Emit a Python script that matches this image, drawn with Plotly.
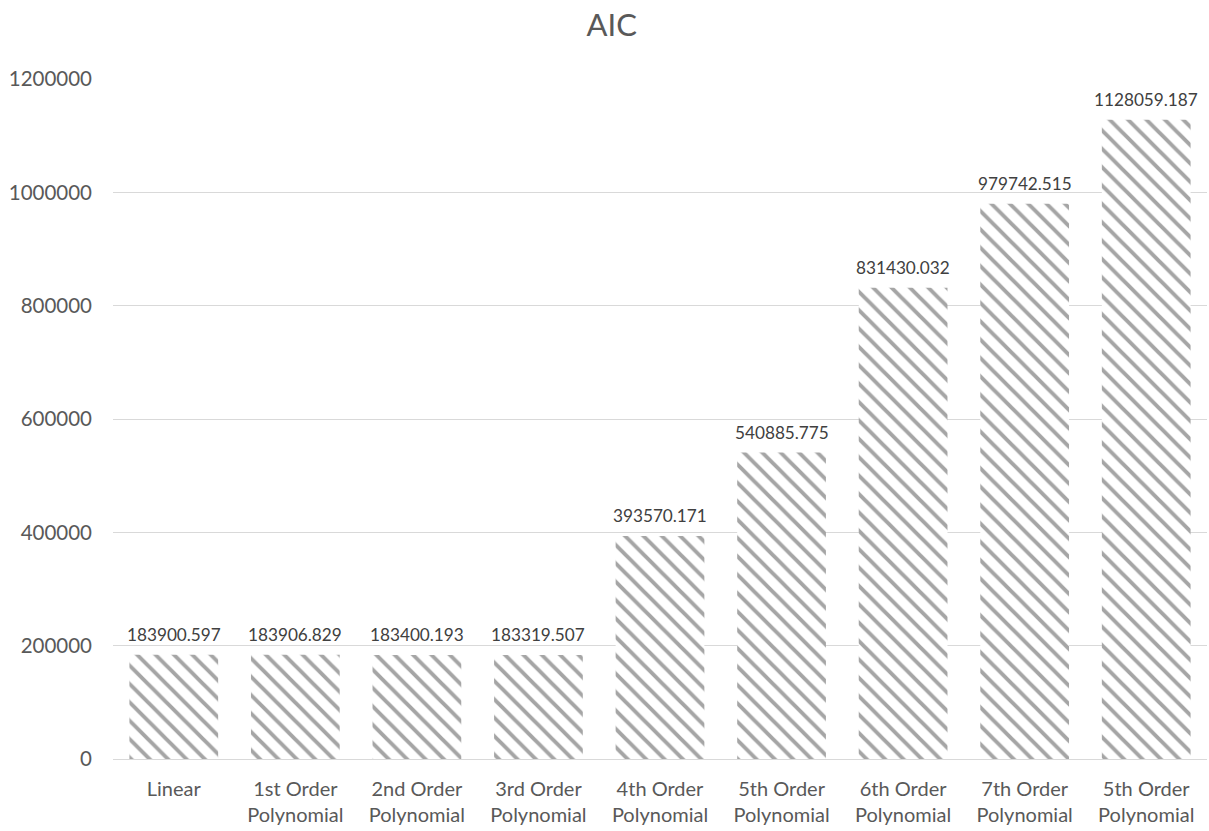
import plotly.graph_objects as go

categories = ["Linear", "1st Order<br>Polynomial", "2nd Order<br>Polynomial", "3rd Order<br>Polynomial",
              "4th Order<br>Polynomial", "5th Order<br>Polynomial", "6th Order<br>Polynomial",
              "7th Order<br>Polynomial", "5th Order<br>Polynomial"]
aic_values = [183900.597, 183906.829, 183400.193, 183319.507, 393570.171,
              540885.775, 831430.032, 979742.515, 1128059.187]
y_ticks = [0, 200000, 400000, 600000, 800000, 1000000, 1200000]

x_pos = list(range(len(categories)))
labels = [f"{v:.3f}" for v in aic_values]

FONT = "Lato, 'Open Sans', sans-serif"

fig = go.Figure(go.Bar(
    x=x_pos, y=aic_values,
    cliponaxis=False,
    hoverinfo="skip",
    marker=dict(
        color="white",
        line=dict(width=0),
        pattern=dict(shape="\\", fgcolor="#a5a5a5", bgcolor="white", fgopacity=1,
                     size=13, solidity=0.3, fillmode="replace"),
    ),
))

for xi, v, lab in zip(x_pos, aic_values, labels):
    fig.add_annotation(x=xi, y=v, xref="x", yref="y", text=lab, showarrow=False,
                       yanchor="bottom", yshift=8,
                       font=dict(size=17.2, color="#404040", family=FONT))

fig.update_layout(
    width=1209, height=831,
    paper_bgcolor="white", plot_bgcolor="white",
    margin=dict(l=113, r=2, t=79, b=72, autoexpand=False),
    bargap=0.27,
    showlegend=False,
    font=dict(family=FONT, color="#595959", size=20),
    title=dict(text="AIC", x=0.506, xanchor="center", y=0.970, yanchor="middle",
               font=dict(size=31, color="#595959", family=FONT)),
)
fig.update_xaxes(
    range=[-0.5, len(categories) - 0.5],
    tickvals=x_pos, ticktext=categories,
    showline=True, linecolor="#d9d9d9", linewidth=1,
    showgrid=False, ticks="", ticklabelstandoff=12,
    tickfont=dict(size=20, color="#595959"),
    automargin=False,
)
fig.update_yaxes(
    range=[0, 1200000],
    tickvals=y_ticks, ticktext=[str(t) for t in y_ticks],
    showgrid=True, gridcolor="#d9d9d9", gridwidth=1,
    zeroline=False, showline=False, ticks="",
    ticklabelstandoff=20, automargin=False,
    tickfont=dict(size=20.5, color="#595959"),
)

fig.write_html("out.html", config={"displayModeBar": False},
               post_script="document.body.style.margin='0';document.body.style.overflow='hidden';")
